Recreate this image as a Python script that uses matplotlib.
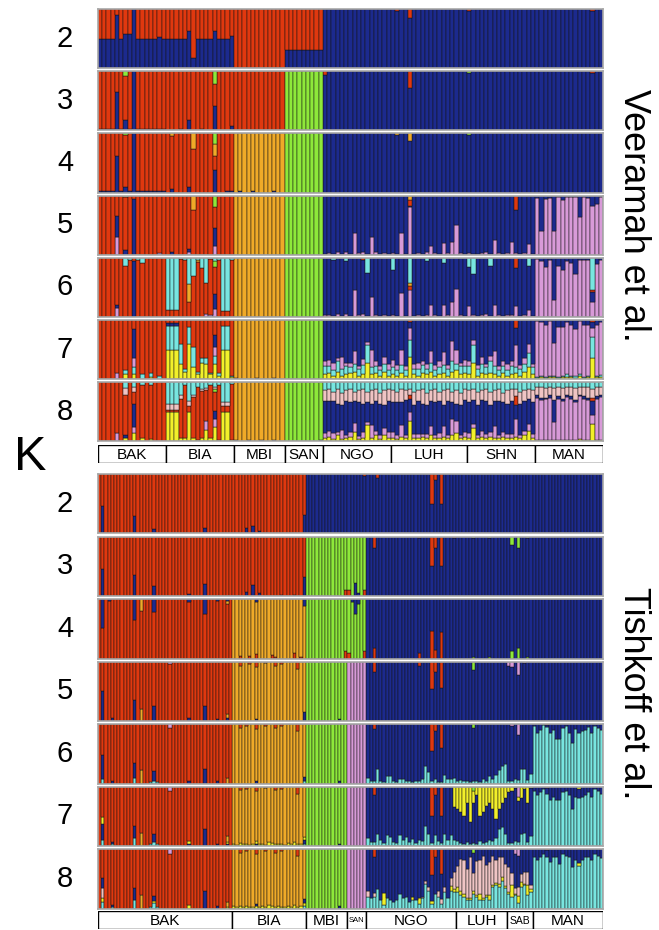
import numpy as np
import matplotlib
matplotlib.use("Agg")
import matplotlib.pyplot as plt
from matplotlib.patches import Rectangle

plt.rcParams["font.family"] = ["Liberation Sans", "DejaVu Sans"]

W, H = 659, 930

COLORS = {
    "red": "#e0380f",
    "blue": "#1c2a8e",
    "green": "#8ee83a",
    "gold": "#f0aa28",
    "violet": "#d89ad8",
    "cyan": "#78e6e0",
    "yellow": "#f2f02a",
    "salmon": "#f0c4c4",
}
EDGE = "#141414"

# ---------------- Veeramah et al. (top panel) ----------------
VEER_GROUPS = ["BAK", "BIA", "MBI", "SAN", "NGO", "LUH", "SHN", "MAN"]
VEER_SIZES = [16, 16, 12, 9, 16, 18, 16, 16]

# stacking order (bottom -> top) for each K
VEER_ORDER = {
    2: ["blue", "red"],
    3: ["blue", "red", "green"],
    4: ["blue", "red", "gold", "green"],
    5: ["violet", "blue", "red", "gold", "green"],
    6: ["violet", "blue", "red", "gold", "green", "cyan"],
    7: ["yellow", "cyan", "violet", "blue", "red", "gold", "green"],
    8: ["yellow", "violet", "blue", "red", "gold", "green", "salmon", "cyan"],
}

# per group: (colour that fills the rest, {colour: per-individual % or {index: %}})
VEER_K2 = {
    "BAK": ("red", {"blue": [50, 50, 50, 50, 90, 50, 58, 58, 100, 50, 50, 50, 50, 50, 52, 50]}),
    "BIA": ("red", {"blue": [50, 50, 50, 50, 50, 63, 17, 50, 50, 50, 50, 62, 50, 50, 50, 55]}),
    "MBI": ("red", {}),
    "SAN": ("red", {"blue": [30, 30, 30, 30, 30, 30, 30, 30, 30]}),
    "NGO": ("blue", {}),
    "LUH": ("blue", {"red": {1: 3, 4: 15}}),
    "SHN": ("blue", {"red": {0: 3}}),
    "MAN": ("blue", {"red": {13: 3}}),
}
VEER_K3 = {
    "BAK": ("red", {"blue": [2, 2, 2, 2, 65, 2, 18, 3, 100, 2, 2, 2, 2, 2, 2, 2], "green": {6: 8}}),
    "BIA": ("red", {"blue": {3: 3, 5: 18, 8: 2, 11: 42, 15: 8}, "green": {11: 22}}),
    "MBI": ("red", {}),
    "SAN": ("green", {}),
    "NGO": ("blue", {"red": {0: 6}}),
    "LUH": ("blue", {"red": {4: 28}}),
    "SHN": ("blue", {"green": {0: 3}}),
    "MAN": ("blue", {"red": {13: 3}}),
}
VEER_K4 = {
    "BAK": ("red", {"blue": [2, 2, 2, 2, 62, 2, 10, 2, 100, 2, 2, 2, 2, 2, 2, 2], "green": {6: 3}}),
    "BIA": ("red", {"blue": {1: 6, 5: 10, 11: 38, 14: 3, 15: 3}, "gold": {1: 4, 6: 27, 11: 20},
                    "green": {11: 18}}),
    "MBI": ("gold", {"blue": {1: 2, 4: 2, 9: 2}}),
    "SAN": ("green", {}),
    "NGO": ("blue", {}),
    "LUH": ("blue", {"gold": {1: 3, 4: 12}}),
    "SHN": ("blue", {"green": {0: 3}}),
    "MAN": ("blue", {}),
}
VEER_K5 = {
    "BAK": ("red", {"violet": {4: 30, 14: 3}, "blue": {4: 35, 6: 8, 8: 95}, "green": {6: 3}}),
    "BIA": ("red", {"blue": {1: 5, 5: 5, 11: 30}, "violet": {5: 4, 11: 15}, "green": {11: 20},
                    "gold": {6: 25}}),
    "MBI": ("gold", {}),
    "SAN": ("green", {}),
    "NGO": ("blue", {"violet": [2, 3, 2, 4, 2, 4, 2, 36, 3, 5, 2, 30, 4, 2, 3, 2]}),
    "LUH": ("blue", {"violet": [3, 2, 36, 2, 80, 2, 3, 2, 4, 15, 3, 2, 20, 3, 22, 50, 3, 2],
                     "red": {4: 10}, "gold": {4: 8}}),
    "SHN": ("blue", {"violet": [3, 2, 2, 3, 5, 2, 25, 3, 2, 3, 22, 3, 2, 3, 18, 2], "red": {11: 25}}),
    "MAN": ("blue", {"violet": [96, 40, 95, 96, 40, 97, 92, 98, 98, 98, 64, 98, 96, 83, 86, 98]}),
}
VEER_K6 = {
    "BAK": ("red", {"violet": {4: 15}, "blue": {4: 5, 8: 95}, "cyan": {6: 14, 7: 3, 9: 3, 10: 8}}),
    "BIA": ("red", {"cyan": [88, 88, 88, 2, 3, 45, 30, 3, 17, 42, 2, 5, 3, 90, 90, 3],
                    "gold": {5: 30, 7: 4}, "blue": {11: 25}, "violet": {9: 5, 10: 4, 11: 14},
                    "green": {11: 10}}),
    "MBI": ("gold", {}),
    "SAN": ("green", {}),
    "NGO": ("blue", {"violet": [3, 3, 2, 5, 2, 5, 2, 45, 3, 5, 2, 33, 4, 2, 3, 2],
                     "cyan": {2: 4, 5: 5, 10: 25}, "red": {9: 3}}),
    "LUH": ("blue", {"violet": [3, 2, 40, 2, 45, 2, 3, 2, 4, 20, 3, 2, 20, 3, 25, 47, 3, 2],
                     "cyan": {0: 20, 4: 42, 8: 5, 12: 8}, "red": {4: 8}, "gold": {4: 5}}),
    "SHN": ("blue", {"violet": [18, 3, 2, 3, 5, 2, 20, 3, 2, 3, 3, 18, 2, 3, 12, 2],
                     "cyan": {0: 15, 1: 28, 5: 14, 14: 14}, "red": {11: 17}}),
    "MAN": ("blue", {"violet": [98, 95, 85, 97, 28, 86, 80, 94, 92, 72, 97, 97, 97, 25, 90, 96],
                     "cyan": {13: 55}, "red": {13: 3}}),
}
VEER_K7 = {
    "BAK": ("red", {"yellow": {6: 8, 8: 8, 12: 3}, "cyan": {6: 8, 8: 12, 10: 8, 12: 8, 14: 5},
                    "violet": {4: 10, 8: 15}, "blue": {8: 50}}),
    "BIA": ("red", {"yellow": [50, 50, 50, 25, 12, 60, 20, 8, 28, 25, 8, 25, 5, 50, 50, 3],
                    "cyan": [40, 40, 40, 35, 5, 28, 35, 5, 8, 10, 3, 15, 5, 40, 40, 2],
                    "blue": {0: 5, 1: 5, 2: 5, 11: 20}, "violet": {11: 14}}),
    "MBI": ("gold", {"blue": {0: 2, 5: 2, 9: 2}}),
    "SAN": ("green", {}),
    "NGO": ("blue", {"yellow": [8, 10, 6, 12, 6, 8, 10, 12, 5, 8, 28, 8, 10, 6, 12, 6],
                     "cyan": [14, 12, 10, 18, 12, 14, 10, 14, 12, 16, 30, 12, 12, 10, 14, 10],
                     "violet": [8, 10, 12, 6, 20, 5, 8, 22, 5, 10, 5, 30, 8, 6, 12, 10]}),
    "LUH": ("blue", {"yellow": [8, 6, 10, 6, 37, 8, 6, 10, 8, 12, 6, 8, 10, 6, 12, 16, 8, 10],
                     "cyan": [12, 10, 14, 10, 30, 10, 12, 14, 10, 16, 10, 12, 14, 12, 18, 10, 14, 12],
                     "violet": [12, 8, 25, 6, 20, 8, 10, 6, 8, 20, 8, 10, 22, 6, 34, 24, 6, 10],
                     "red": {4: 3}}),
    "SHN": ("blue", {"yellow": [8, 28, 6, 10, 8, 10, 8, 6, 10, 6, 8, 10, 6, 12, 20, 8],
                     "cyan": [14, 30, 12, 16, 12, 20, 14, 10, 12, 10, 14, 10, 12, 14, 25, 12],
                     "violet": [8, 8, 6, 12, 6, 10, 25, 6, 8, 10, 8, 37, 6, 10, 14, 6],
                     "red": {11: 14}}),
    "MAN": ("blue", {"violet": [95, 90, 88, 92, 55, 85, 82, 88, 86, 80, 90, 88, 85, 15, 85, 90],
                     "cyan": [2, 3, 2, 3, 3, 2, 3, 4, 3, 3, 4, 2, 3, 37, 3, 3],
                     "yellow": [2, 3, 2, 3, 3, 2, 3, 4, 3, 2, 5, 2, 3, 35, 3, 4],
                     "red": {13: 3}}),
}
VEER_K8 = {
    "BAK": ("red", {"cyan": {6: 10, 8: 8, 10: 5, 12: 5}, "salmon": {6: 12, 8: 8},
                    "blue": {6: 5, 8: 40}, "violet": {4: 14, 8: 10},
                    "yellow": {6: 6, 8: 14, 10: 6, 12: 4}}),
    "BIA": ("red", {"yellow": [50, 50, 50, 5, 5, 50, 5, 3, 5, 20, 5, 25, 3, 50, 50, 2],
                    "cyan": [37, 37, 37, 22, 5, 32, 22, 8, 12, 10, 5, 8, 5, 34, 34, 3],
                    "salmon": [10, 10, 10, 6, 0, 8, 3, 0, 3, 3, 0, 3, 0, 6, 6, 0],
                    "violet": {9: 15, 11: 12}, "blue": {11: 15}, "green": {11: 6}}),
    "MBI": ("gold", {"blue": {0: 3, 3: 2, 6: 3, 9: 2}}),
    "SAN": ("green", {"blue": {8: 3}}),
    "NGO": ("blue", {"yellow": [6, 8, 4, 10, 4, 6, 8, 16, 4, 6, 28, 6, 10, 4, 10, 6],
                     "violet": [8, 10, 10, 6, 16, 5, 8, 15, 5, 10, 5, 22, 8, 6, 12, 10],
                     "salmon": [18, 20, 16, 24, 20, 18, 22, 16, 20, 24, 18, 22, 20, 18, 24, 20],
                     "cyan": [14, 12, 16, 12, 18, 14, 12, 16, 14, 12, 16, 14, 12, 18, 14, 12]}),
    "LUH": ("blue", {"yellow": [6, 4, 8, 5, 35, 6, 5, 8, 6, 10, 5, 6, 8, 5, 10, 14, 6, 8],
                     "violet": [10, 6, 20, 5, 15, 6, 8, 5, 6, 16, 6, 8, 18, 5, 28, 20, 5, 8],
                     "salmon": [20, 18, 22, 16, 10, 22, 18, 24, 20, 18, 22, 16, 24, 20, 18, 22, 20, 18],
                     "cyan": [14, 16, 12, 14, 12, 16, 14, 12, 18, 14, 12, 16, 14, 12, 16, 14, 18, 12],
                     "red": {4: 6}}),
    "SHN": ("blue", {"yellow": [6, 22, 5, 8, 6, 8, 6, 5, 8, 5, 6, 8, 5, 10, 18, 6],
                     "violet": [8, 8, 6, 10, 6, 8, 20, 6, 8, 8, 6, 30, 6, 8, 12, 6],
                     "salmon": [20, 18, 22, 16, 20, 22, 18, 20, 16, 22, 20, 12, 20, 18, 16, 20],
                     "cyan": [14, 12, 16, 14, 12, 16, 14, 12, 18, 14, 12, 12, 16, 14, 12, 14],
                     "red": {11: 14}}),
    "MAN": ("blue", {"violet": [72, 68, 70, 72, 30, 70, 66, 72, 70, 64, 72, 70, 68, 15, 70, 72],
                     "salmon": [14, 18, 16, 14, 20, 16, 18, 14, 16, 20, 14, 16, 18, 15, 16, 14],
                     "cyan": [8, 8, 10, 8, 10, 8, 10, 8, 8, 10, 8, 8, 8, 12, 8, 8],
                     "yellow": [2, 2, 2, 2, 3, 2, 2, 3, 2, 2, 4, 2, 2, 30, 2, 3],
                     "red": {13: 5}}),
}
VEER_TABLES = {2: VEER_K2, 3: VEER_K3, 4: VEER_K4, 5: VEER_K5, 6: VEER_K6, 7: VEER_K7, 8: VEER_K8}

# ---------------- Tishkoff et al. (bottom panel) ----------------
TISH_GROUPS = ["BAK", "BIA", "MBI", "SAN", "NGO", "LUH", "SAB", "MAN"]
TISH_SIZES = [42, 23, 13, 6, 28, 16, 8, 22]

TISH_ORDER = {
    2: ["blue", "red"],
    3: ["blue", "red", "green"],
    4: ["red", "gold", "green", "blue"],
    5: ["blue", "gold", "red", "green", "violet"],
    6: ["cyan", "blue", "gold", "red", "green", "violet"],
    7: ["cyan", "blue", "yellow", "gold", "red", "green", "violet"],
    8: ["cyan", "yellow", "salmon", "blue", "gold", "red", "green", "violet"],
}

BIA_RED_TOP = {2: 6, 4: 4, 7: 8, 10: 3, 13: 6, 15: 4, 20: 12}
BIA_YELLOW = [4, 2, 5, 3, 4, 2, 3, 5, 3, 4, 2, 6, 5, 3, 4, 3, 2, 5, 3, 6, 3, 4, 5]

TISH_K2 = {
    "BAK": ("red", {"blue": {1: 47, 11: 30, 17: 8, 33: 10}}),
    "BIA": ("red", {"blue": {4: 10, 6: 13, 8: 5, 22: 31}}),
    "MBI": ("blue", {}),
    "SAN": ("blue", {"red": {5: 3}}),
    "NGO": ("blue", {"red": {3: 6, 20: 50, 21: 10, 23: 50}}),
    "LUH": ("blue", {}),
    "SAB": ("blue", {}),
    "MAN": ("blue", {}),
}
TISH_K3 = {
    "BAK": ("red", {"blue": {1: 45, 11: 35, 17: 17, 28: 3, 33: 20}}),
    "BIA": ("red", {"blue": {4: 7, 6: 18, 8: 5, 15: 2, 19: 2, 22: 32}}),
    "MBI": ("green", {"red": {12: 10}}),
    "SAN": ("green", {"blue": {2: 22, 3: 5}, "red": {0: 10, 5: 10}}),
    "NGO": ("blue", {"red": {2: 20, 16: 3, 20: 50, 21: 20, 23: 50, 27: 3}}),
    "LUH": ("blue", {"green": {5: 3, 10: 3}}),
    "SAB": ("blue", {"green": {1: 14, 3: 20, 6: 3}}),
    "MAN": ("blue", {}),
}
TISH_K4 = {
    "BAK": ("red", {"blue": {1: 48, 3: 3, 11: 36, 17: 22, 28: 5, 33: 25, 37: 3, 40: 4},
                    "gold": {13: 20, 40: 5}}),
    "BIA": ("gold", {"red": {2: 5, 5: 4, 7: 8, 12: 6, 13: 3, 19: 10, 21: 3}, "blue": {7: 5, 22: 12}}),
    "MBI": ("green", {"red": {12: 12}}),
    "SAN": ("green", {"blue": {1: 5, 2: 25, 3: 8}, "red": {0: 10, 5: 12}}),
    "NGO": ("blue", {"red": {2: 18, 16: 10, 20: 46, 21: 15, 23: 44}}),
    "LUH": ("blue", {"green": {5: 3, 10: 3}}),
    "SAB": ("blue", {"green": {1: 12, 3: 18, 6: 3}}),
    "MAN": ("blue", {}),
}
TISH_K5 = {
    "BAK": ("red", {"blue": {1: 50, 4: 5, 11: 35, 17: 25, 28: 5, 33: 25, 37: 4, 40: 5},
                    "gold": {13: 20, 40: 6}, "violet": {22: 4}}),
    "BIA": ("gold", {"red": {2: 8, 5: 5, 7: 10, 10: 3, 13: 8, 15: 4, 20: 13}, "blue": {7: 3, 22: 15}}),
    "MBI": ("green", {"blue": {10: 4}}),
    "SAN": ("violet", {}),
    "NGO": ("blue", {"red": {2: 17, 16: 8, 20: 47, 21: 17, 23: 45}}),
    "LUH": ("blue", {"green": {5: 15}}),
    "SAB": ("blue", {"violet": {0: 8, 1: 10, 3: 22, 5: 3}}),
    "MAN": ("blue", {}),
}
TISH_K6 = {
    "BAK": ("red", {"cyan": {1: 8, 11: 10, 16: 3, 17: 4, 18: 3},
                    "blue": {1: 40, 4: 4, 11: 24, 17: 17, 28: 5, 33: 25, 37: 4},
                    "gold": {13: 22, 40: 9}, "violet": {22: 6}}),
    "BIA": ("gold", {"red": BIA_RED_TOP, "blue": {7: 4, 22: 6}, "cyan": {22: 5}}),
    "MBI": ("green", {"blue": {10: 4}}),
    "SAN": ("violet", {}),
    "NGO": ("blue", {"cyan": [10, 5, 5, 25, 5, 3, 12, 12, 5, 3, 7, 8, 4, 5, 3, 4, 5, 8, 30, 20,
                              5, 7, 3, 3, 14, 8, 8, 10],
                     "red": {2: 8, 20: 45, 21: 12, 23: 40}}),
    "LUH": ("blue", {"cyan": [5, 6, 4, 5, 3, 5, 4, 3, 7, 4, 12, 8, 14, 22, 30, 33], "green": {5: 7}}),
    "SAB": ("blue", {"cyan": [4, 5, 8, 6, 25, 25, 6, 16], "violet": {1: 4, 3: 18}}),
    "MAN": ("blue", {"cyan": [97, 85, 90, 98, 95, 85, 90, 75, 75, 94, 97, 85, 68, 92, 85, 88, 90,
                              95, 85, 97, 94, 90],
                     "red": {4: 2}}),
}
TISH_K7 = {
    "BAK": ("red", {"cyan": {1: 10, 4: 3, 11: 14, 16: 3, 17: 7, 18: 3},
                    "blue": {1: 27, 4: 3, 11: 19, 17: 14, 28: 4, 33: 28, 37: 4, 40: 3},
                    "yellow": {1: 11, 28: 4, 40: 3}, "gold": {13: 22, 40: 10}, "violet": {22: 8}}),
    "BIA": ("gold", {"yellow": BIA_YELLOW, "red": BIA_RED_TOP, "blue": {7: 3, 22: 6}, "cyan": {22: 4}}),
    "MBI": ("green", {"blue": {10: 4}}),
    "SAN": ("violet", {}),
    "NGO": ("blue", {"cyan": [14, 7, 7, 20, 10, 5, 18, 15, 7, 5, 18, 10, 15, 7, 12, 5, 10, 8, 33, 20,
                              5, 18, 8, 5, 20, 10, 18, 10],
                     "red": {2: 15, 20: 50, 21: 15, 23: 50}, "yellow": {27: 35}}),
    "LUH": ("blue", {"yellow": [38, 43, 50, 27, 60, 20, 15, 50, 43, 32, 27, 38, 55, 38, 27, 20],
                     "cyan": [8, 5, 4, 6, 4, 5, 3, 8, 5, 6, 10, 8, 14, 28, 32, 20], "green": {5: 7}}),
    "SAB": ("blue", {"yellow": [10, 8, 3, 7, 20, 5, 27, 3], "cyan": [5, 5, 8, 6, 20, 22, 6, 16],
                     "violet": {3: 17}}),
    "MAN": ("blue", {"cyan": [93, 85, 90, 95, 88, 78, 83, 78, 78, 90, 93, 85, 62, 83, 80, 83, 85,
                              90, 83, 95, 92, 88],
                     "yellow": {14: 4}, "red": {4: 2}}),
}
TISH_K8 = {
    "BAK": ("red", {"cyan": {1: 11, 4: 3, 11: 14, 16: 3, 17: 10, 18: 3},
                    "yellow": {1: 6, 17: 3, 28: 6, 40: 3}, "salmon": {1: 17},
                    "blue": {1: 17, 4: 3, 11: 20, 17: 8, 33: 30, 37: 4},
                    "gold": {13: 22, 40: 8}, "violet": {22: 8}}),
    "BIA": ("gold", {"yellow": BIA_YELLOW, "red": BIA_RED_TOP, "blue": {7: 3, 22: 6}, "cyan": {22: 5}}),
    "MBI": ("green", {"blue": {10: 4}}),
    "SAN": ("violet", {}),
    "NGO": ("blue", {"cyan": [20, 17, 20, 33, 14, 6, 17, 14, 11, 14, 25, 17, 20, 11, 14, 14, 8, 17,
                              42, 30, 8, 25, 20, 8, 28, 17, 30, 28],
                     "yellow": {5: 20, 14: 5, 16: 10, 20: 5, 26: 8, 27: 4},
                     "salmon": {0: 10, 2: 6, 17: 3, 18: 4, 19: 6, 22: 10, 23: 8, 24: 8, 26: 14, 27: 30},
                     "red": {2: 13, 20: 44, 21: 13, 23: 42}}),
    "LUH": ("blue", {"cyan": [28, 22, 20, 14, 14, 25, 20, 14, 14, 20, 14, 36, 39, 36, 47, 34],
                     "yellow": [8, 8, 4, 3, 3, 4, 3, 11, 3, 3, 8, 3, 4, 6, 6, 4],
                     "salmon": [36, 53, 58, 50, 70, 30, 56, 56, 72, 50, 56, 50, 39, 45, 34, 36],
                     "green": {5: 7}}),
    "SAB": ("blue", {"cyan": [25, 20, 22, 10, 36, 39, 22, 28], "yellow": [3, 20, 3, 11, 8, 3, 17, 4],
                     "salmon": [42, 20, 10, 15, 14, 20, 22, 8], "violet": {2: 8, 3: 12}}),
    "MAN": ("blue", {"cyan": [87, 81, 87, 92, 87, 78, 87, 87, 75, 92, 89, 87, 70, 81, 72, 81, 87,
                              87, 81, 92, 89, 85],
                     "yellow": {14: 5}, "red": {4: 2}}),
}
TISH_TABLES = {2: TISH_K2, 3: TISH_K3, 4: TISH_K4, 5: TISH_K5, 6: TISH_K6, 7: TISH_K7, 8: TISH_K8}

K_VALUES = [2, 3, 4, 5, 6, 7, 8]


def expand(groups, sizes, table):
    """Turn the per-group table into one proportion array per colour."""
    n = sum(sizes)
    q = {c: np.zeros(n) for c in COLORS}
    start = 0
    for g, size in zip(groups, sizes):
        dom, minors = table[g]
        total = np.zeros(size)
        for c, vals in minors.items():
            arr = np.zeros(size)
            if isinstance(vals, dict):
                for i, v in vals.items():
                    arr[i] = v
            else:
                m = min(len(vals), size)
                arr[:m] = vals[:m]
            arr = arr / 100.0
            q[c][start:start + size] += arr
            total += arr
        over = total > 1
        if over.any():
            for c in minors:
                q[c][start:start + size][over] /= total[over]
            total[over] = 1.0
        q[dom][start:start + size] += np.clip(1.0 - total, 0, None)
        start += size
    return q


def px_axes(fig, x0, y0, x1, y1):
    return fig.add_axes([x0 / W, 1 - y1 / H, (x1 - x0) / W, (y1 - y0) / H])


def draw_row(ax, q, order):
    order = list(order) + [c for c in COLORS if c not in order and q[c].sum() > 0]
    n = len(q["red"])
    x = np.arange(n)
    bottom = np.zeros(n)
    for c in order:
        h = q[c]
        m = h > 0.001
        if m.any():
            ax.bar(x[m], h[m], bottom=bottom[m], width=1.0, color=COLORS[c],
                   edgecolor=EDGE, linewidth=0.35)
        bottom += h
    ax.set_xlim(-0.5, n - 0.5)
    ax.set_ylim(0, 1)
    ax.set_xticks([])
    ax.set_yticks([])
    for s in ax.spines.values():
        s.set_color("#a8a8a8")
        s.set_linewidth(1.2)


def draw_labels(ax, groups, sizes, small):
    n = sum(sizes)
    start = 0
    for g, size in zip(groups, sizes):
        ax.add_patch(Rectangle((start - 0.5, 0), size, 1, facecolor="white",
                               edgecolor="black", linewidth=1.0))
        ax.text(start - 0.5 + size / 2, 0.47, g, ha="center", va="center",
                fontsize=small.get(g, 11))
        start += size
    ax.set_xlim(-0.5, n - 0.5)
    ax.set_ylim(0, 1)
    ax.axis("off")


fig = plt.figure(figsize=(W / 100, H / 100), dpi=100)

X0, X1 = 98, 603
panels = [
    (VEER_GROUPS, VEER_SIZES, VEER_TABLES, VEER_ORDER, 9.0, 62.2, 59.2, (445, 463), {}),
    (TISH_GROUPS, TISH_SIZES, TISH_TABLES, TISH_ORDER, 474.0, 62.5, 59.5, (911, 929),
     {"SAN": 5.5, "SAB": 7.5}),
]

for groups, sizes, tables, orders, top0, pitch, height, lab, small in panels:
    for r, k in enumerate(K_VALUES):
        y0 = top0 + r * pitch
        ax = px_axes(fig, X0, y0, X1, y0 + height)
        draw_row(ax, expand(groups, sizes, tables[k]), orders[k])
        fig.text(65 / W, 1 - (y0 + height / 2) / H, str(k), ha="center", va="center",
                 fontsize=21)
    lax = px_axes(fig, X0, lab[0], X1, lab[1])
    draw_labels(lax, groups, sizes, small)

fig.text(30 / W, 1 - 457 / H, "K", ha="center", va="center", fontsize=35)
fig.text(633 / W, 1 - 215 / H, "Veeramah et al.", rotation=270, ha="center", va="center",
         fontsize=26)
fig.text(633 / W, 1 - 693 / H, "Tishkoff et al.", rotation=270, ha="center", va="center",
         fontsize=26)

fig.savefig("out.png", dpi=100)
